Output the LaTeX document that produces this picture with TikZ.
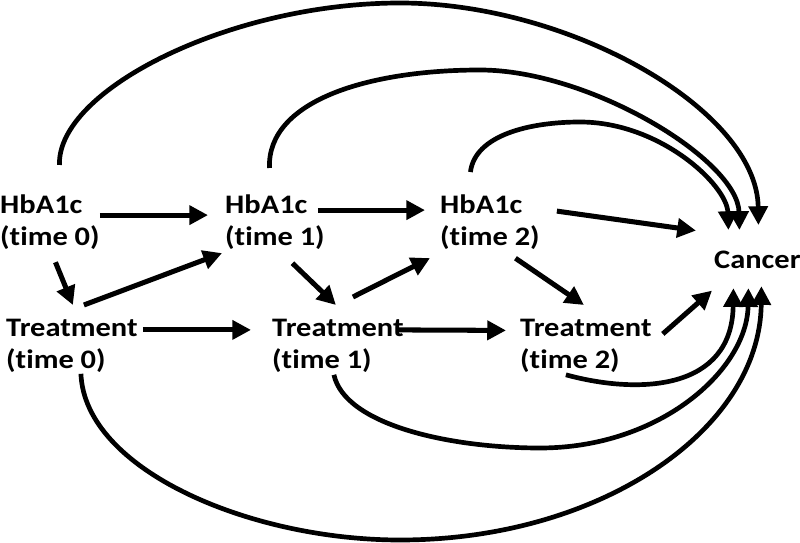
\documentclass[tikz,border=0pt]{standalone}
\usepackage{fontspec}
\setmainfont{Carlito}[FakeStretch=1.14, Ligatures=NoCommon]
\usetikzlibrary{arrows.meta}

\begin{document}
\begin{tikzpicture}[x=0.03cm, y=-0.03cm,
    var/.style={font=\bfseries\fontsize{22.8pt}{27.3pt}\selectfont, align=left, inner sep=0pt, anchor=north west},
    arr/.style={line width=4.3pt, -{Triangle[length=16pt,width=16pt]}},
    longarr/.style={line width=4pt, -{Triangle[length=16pt,width=16pt]}}]
    \useasboundingbox (0,0) rectangle (800,543);

    % HbA1c row
    \node[var] (h0) at (0,195)   {HbA1c\\(time 0)};
    \node[var] (h1) at (225,195) {HbA1c\\(time 1)};
    \node[var] (h2) at (440,195) {HbA1c\\(time 2)};

    % Treatment row
    \node[var] (t0) at (6,318.5)   {Treatment\\(time 0)};
    \node[var] (t1) at (272,318.5) {Treatment\\(time 1)};
    \node[var] (t2) at (520,318.5) {Treatment\\(time 2)};

    % Outcome
    \node[var] (c) at (714,251) {Cancer};

    % HbA1c to HbA1c
    \draw[arr] ([shift={(0,-7.5)}]h0.east) -- ([shift={(-17,-7.5)}]h1.west);
    \draw[arr] ([shift={(-7,-12.5)}]h1.east) -- ([shift={(-15,-12.5)}]h2.west);

    % Treatment to Treatment
    \draw[arr] ([shift={(5,-15.5)}]t0.east) -- ([shift={(-21,-15.5)}]t1.west);
    \draw[arr] ([shift={(-8,-15.5)}]t1.east) -- ([shift={(-14,-15)}]t2.west);

    % HbA1c to treatment
    \draw[arr] ([shift={(5.5,12)}]h0.south) -- ([shift={(1,-13.5)}]t0.north);
    \draw[arr] ([shift={(17.5,13)}]h1.south) -- ([shift={(-2,-13.5)}]t1.north);
    \draw[arr] ([shift={(25.5,8)}]h2.south) -- ([shift={(-2,-13.5)}]t2.north);

    % Treatment to next HbA1c
    \draw[arr] ([shift={(12,-13.5)}]t0.north) -- ([shift={(-3,30.5)}]h1.west);
    \draw[arr] ([shift={(15,-21.5)}]t1.north) -- ([shift={(-10,35.5)}]h2.west);

    % Direct arrows to cancer
    \draw[arr] ([shift={(17,-11.5)}]h2.east) -- ([shift={(-18,-29.5)}]c.west);
    \draw[arr] ([shift={(11,-11.5)}]t2.east) -- ([shift={(-2,30.5)}]c.west);

    % Long arrows over the top
    \draw[longarr] ([shift={(9.5,-30)}]h0.north) .. controls (57,90) and (230,3) .. (400,3)
        .. controls (570,3) and (757,110) .. ([shift={(1,-26)}]c.north);
    \draw[longarr] ([shift={(-5.5,-27)}]h1.north) .. controls (267,100) and (370,70) .. (480,70)
        .. controls (590,70) and (738,160) .. ([shift={(-18,-21)}]c.north);
    \draw[longarr] ([shift={(-19.5,-23)}]h2.north) .. controls (475,135) and (530,122) .. (580,122)
        .. controls (660,122) and (727,185) .. ([shift={(-29,-21)}]c.north);

    % Long arrows under the bottom
    \draw[longarr] ([shift={(9,1.5)}]t0.south) .. controls (85,470) and (250,540) .. (400,540)
        .. controls (600,540) and (760,430) .. ([shift={(4,17)}]c.south);
    \draw[longarr] ([shift={(-4,2.5)}]t1.south) .. controls (345,425) and (450,448) .. (540,448)
        .. controls (660,448) and (747,370) .. ([shift={(-9,19)}]c.south);
    \draw[longarr] ([shift={(-20,2.5)}]t2.south) .. controls (640,395) and (732,390) .. ([shift={(-24,19)}]c.south);
\end{tikzpicture}
\end{document}
